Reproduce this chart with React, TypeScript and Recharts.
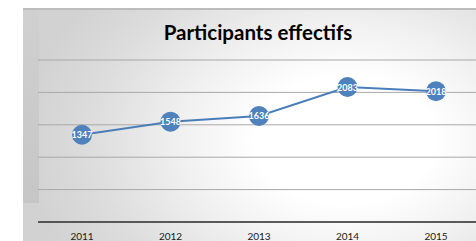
import React from 'react';
import { LineChart, Line, XAxis, YAxis, CartesianGrid, LabelList } from 'recharts';

const years = ['2011', '2012', '2013', '2014', '2015'];
const participants = [1347, 1548, 1636, 2083, 2018];
const yTicks = [0, 500, 1000, 1500, 2000, 2500];

const data = years.map((y, i) => ({ year: y, value: participants[i] }));

const renderLabel = (props: any) => {
  const { x, y, value } = props;
  return (
    <text x={x} y={y} textAnchor="middle" dominantBaseline="central" fill="#ffffff"
      fontSize={9} fontWeight={700} fontFamily="Lato, sans-serif">{value}</text>
  );
};

export default function App() {
  return (
    <div style={{ position: 'fixed', left: 0, top: 0, width: 476, height: 241, overflow: 'hidden', background: '#ffffff' }}>
      <div style={{ position: 'absolute', left: 23, top: 8, width: 460, height: 240,
        background: 'radial-gradient(ellipse 70% 95% at 70% 55%, #ffffff 0%, #ffffff 28%, #f0f0f0 52%, #dcdcdc 80%, #d2d2d2 100%)' }} />
      <div style={{ position: 'absolute', left: 23, top: 8, width: 460, height: 2, background: '#bcbcbc' }} />
      <div style={{ position: 'absolute', left: 23, top: 10, width: 16, height: 193,
        background: 'linear-gradient(to bottom, #d0d0d0, #c6c6c6)' }} />
      <div style={{ position: 'absolute', left: 0, top: 0 }}>
        <LineChart width={480} height={241} data={data} margin={{ top: 60, right: 0, left: 38, bottom: 0 }}>
          <CartesianGrid vertical={false} stroke="#a8a8a8" strokeWidth={1} />
          <YAxis hide width={0} domain={[0, 2500]} ticks={yTicks} />
          <XAxis dataKey="year" height={19} stroke="#333333" strokeWidth={1.5} tickLine={false}
            padding={{ left: 44, right: 44 }}
            tick={{ fontSize: 10, fill: '#1a1a1a', fontFamily: 'Lato, sans-serif' }} tickMargin={5} />
          <Line type="linear" dataKey="value" stroke="#4a7ebb" strokeWidth={2} isAnimationActive={false}
            dot={{ r: 10, fill: '#4f81bd', stroke: '#4f81bd', strokeWidth: 0 }}>
            <LabelList dataKey="value" content={renderLabel} />
          </Line>
          <text x={258} y={32} textAnchor="middle" dominantBaseline="central" fontSize={20.5} fontWeight={700}
            fontFamily="Lato, sans-serif" fill="#000000">Participants effectifs</text>
        </LineChart>
      </div>
    </div>
  );
}
